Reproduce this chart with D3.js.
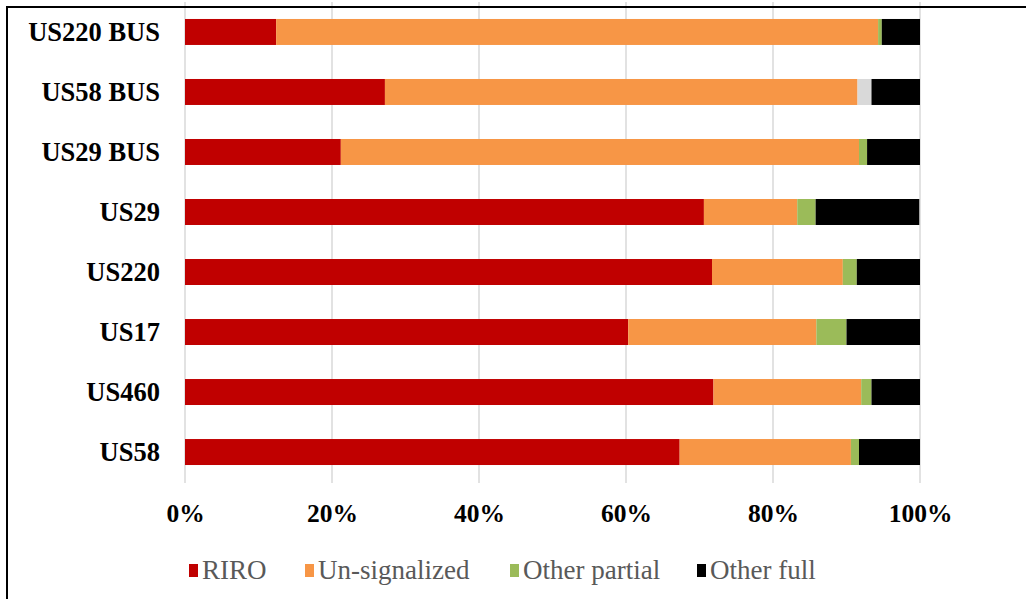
<!DOCTYPE html>
<html>
<head>
<meta charset="utf-8">
<script src="https://cdn.jsdelivr.net/npm/d3@7"></script>
<style>
  html, body { margin: 0; padding: 0; background: #fff; }
  svg { display: block; }
</style>
</head>
<body>
<svg id="chart" width="1026" height="599"></svg>
<script>
const categories = ["US220 BUS", "US58 BUS", "US29 BUS", "US29", "US220", "US17", "US460", "US58"];
const riro        = [12.4, 27.2, 21.2, 70.6, 71.7, 60.3, 71.9, 67.3];
const unsignalized= [81.9, 64.3, 70.5, 12.7, 17.8, 25.6, 20.1, 23.3];
const otherPartial= [0.5, 0, 1.1, 2.5, 1.9, 4.1, 1.4, 1.1];
const otherGrey   = [0, 1.9, 0, 0, 0, 0, 0, 0];
const otherFull   = [5.2, 6.6, 7.2, 14.1, 8.6, 10.0, 6.6, 8.3];
const tickValues  = [0, 20, 40, 60, 80, 100];
const tickLabels  = ["0%", "20%", "40%", "60%", "80%", "100%"];

const seriesNames = ["RIRO", "Un-signalized", "Other partial", "Other", "Other full"];
const seriesColors = ["#C00000", "#F79646", "#9BBB59", "#D9D9D9", "#000000"];
const legendNames = ["RIRO", "Un-signalized", "Other partial", "Other full"];
const legendColors = ["#C00000", "#F79646", "#9BBB59", "#000000"];

const rows = categories.map((c, i) => ({
  cat: c,
  "RIRO": riro[i],
  "Un-signalized": unsignalized[i],
  "Other partial": otherPartial[i],
  "Other": otherGrey[i],
  "Other full": otherFull[i]
}));

const FONT = "'Liberation Serif', 'Times New Roman', serif";
const svg = d3.select("#chart");
const x = d3.scaleLinear().domain([0, 100]).range([185, 920]);
const y = d3.scaleBand().domain(categories).range([2, 482]).paddingInner(0.567).paddingOuter(0.283);

// gridlines
svg.append("g").selectAll("line").data(tickValues).join("line")
  .attr("x1", d => x(d)).attr("x2", d => x(d))
  .attr("y1", 2).attr("y2", 483)
  .attr("stroke", "#D9D9D9").attr("stroke-width", 1.5);

const stacked = d3.stack().keys(seriesNames)(rows);
const color = d3.scaleOrdinal().domain(seriesNames).range(seriesColors);

svg.append("g").selectAll("g").data(stacked).join("g")
  .attr("fill", d => color(d.key))
  .selectAll("rect").data(d => d).join("rect")
  .attr("x", d => x(d[0]))
  .attr("width", d => Math.max(0, x(d[1]) - x(d[0])))
  .attr("y", d => y(d.data.cat))
  .attr("height", y.bandwidth());

// y labels
svg.append("g").selectAll("text").data(categories).join("text")
  .attr("x", 160)
  .attr("y", d => y(d) + y.bandwidth() / 2)
  .attr("text-anchor", "end")
  .attr("dominant-baseline", "central")
  .attr("font-family", FONT)
  .attr("font-weight", "bold")
  .attr("font-size", 26.5)
  .attr("fill", "#000")
  .text(d => d);

// x tick labels
const xAxis = d3.axisBottom(x).tickValues(tickValues).tickFormat((d, i) => tickLabels[i]).tickSize(0).tickPadding(0);
const gx = svg.append("g").attr("transform", "translate(0,504)").call(xAxis);
gx.select(".domain").remove();
gx.selectAll("text")
  .attr("font-family", FONT)
  .attr("font-weight", "bold")
  .attr("font-size", 25.5)
  .attr("fill", "#000");

// legend
const legendTextX = [202, 318, 523, 710];
const lg = svg.append("g").selectAll("g").data(legendNames).join("g")
  .attr("transform", (d, i) => `translate(${legendTextX[i]},570)`);
lg.append("rect").attr("x", -13).attr("y", -6).attr("width", 9).attr("height", 13)
  .attr("fill", (d, i) => legendColors[i]);
lg.append("text").attr("x", 0).attr("y", 0)
  .attr("dominant-baseline", "central")
  .attr("font-family", FONT)
  .attr("font-size", 27)
  .attr("fill", "#595959")
  .text(d => d);

// frame
svg.append("line").attr("x1", 6).attr("x2", 1026).attr("y1", 7).attr("y2", 7)
  .attr("stroke", "#000").attr("stroke-width", 2);
svg.append("line").attr("x1", 7).attr("x2", 7).attr("y1", 6).attr("y2", 599)
  .attr("stroke", "#000").attr("stroke-width", 2);
</script>
</body>
</html>
